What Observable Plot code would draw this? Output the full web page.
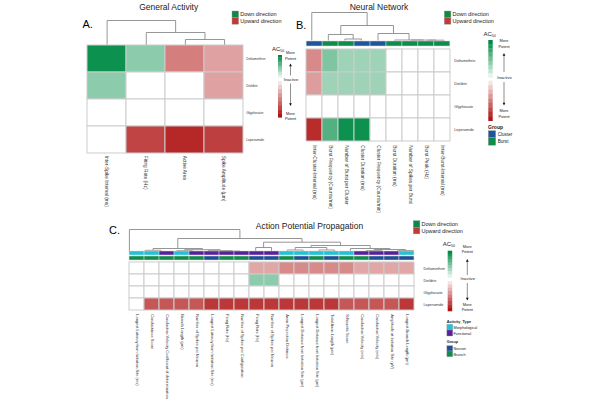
<!DOCTYPE html>
<html><head><meta charset="utf-8">
<script src="https://cdn.jsdelivr.net/npm/d3@7"></script>
<script src="https://cdn.jsdelivr.net/npm/@observablehq/plot@0.6"></script>
<style>
html,body{margin:0;padding:0;background:#fff;}
#root{position:relative;width:600px;height:400px;overflow:hidden;background:#fff;font-family:'Liberation Sans', Arial, sans-serif;}
#root svg{position:absolute;overflow:visible;font-family:'Liberation Sans', Arial, sans-serif;}
</style></head><body><div id="root"></div>
<script>
// ---------------- DATA ----------------
const rows = ["Deltamethrin", "Dieldrin", "Glyphosate", "Loperamide"];

const colsA = ["Inter-Spike Interval (ms)", "Firing Rate (Hz)", "Active Area", "Spike Amplitude (µm)"];
const valuesA = [
  [0.95, 0.45, -0.55, -0.4],
  [0.45, 0, 0, -0.4],
  [0, 0, 0, 0],
  [0, -0.8, -0.92, -0.82]
];
const mergesA = [[2, 3, 6], [1, 4, 13], [0, 5, 25]];

const colsB = ["Inter-Cluster-Interval (ms)", "Burst Frequency (Counts/min)", "Number of Burst per Cluster",
  "Cluster Duration (ms)", "Cluster Frequency (Counts/min)", "Burst Duration (ms)",
  "Number of Spikes per Burst", "Burst Peak (Hz)", "Inter-Burst-Interval (ms)"];
const groupB = ["Cluster", "Burst", "Burst", "Cluster", "Cluster", "Burst", "Burst", "Burst", "Burst"];
const valuesB = [
  [-0.5, 0.5, 0.38, 0.38, 0.38, 0, 0, 0, 0],
  [-0.42, 0.38, 0.38, 0.38, 0.38, 0, 0, 0, 0],
  [0, 0, 0, 0, 0, 0, 0, 0, 0],
  [-0.9, 0.68, 0.95, 0.95, 0, 0, 0, 0, 0]
];
const mergesB = [[7, 8, 0.3], [6, 9, 0.4], [5, 10, 0.5], [2, 3, 1.5], [1, 12, 6], [4, 11, 7], [13, 14, 15], [0, 15, 28]];

const colsC = ["Longest Latency from Initiation Site (ms)", "Conductance Score",
  "Conduction Velocity Coefficient of determination", "Branch Length (µm)", "Number of Spikes per Neuron",
  "Longest Latency from Initiation Site (ms) ", "Firing Rate (Hz)", "Number of Spikes per Configuration",
  "Firing Rate (Hz) ", "Number of Spikes per Neuron ", "Axon Projection Distance",
  "Longest Distance from Initiation Site (µm)", "Longest Distance from Initiation Site (µm) ",
  "Total Axon Length (µm)", "Silhouette Score", "Conduction Velocity (m/s)", "Conduction Velocity (m/s) ",
  "Amplitude at Initiation Site (µV)", "Longest Branch Length (µm)"];
const activityC = ["Morphological", "Morphological", "Functional", "Morphological", "Functional", "Functional",
  "Functional", "Functional", "Functional", "Functional", "Morphological", "Morphological", "Morphological",
  "Morphological", "Morphological", "Functional", "Functional", "Functional", "Morphological"];
const groupC = ["Branch", "Branch", "Branch", "Branch", "Branch", "Neuron", "Branch", "Branch", "Neuron", "Neuron",
  "Branch", "Neuron", "Branch", "Neuron", "Branch", "Branch", "Neuron", "Neuron", "Neuron"];
const valuesC = [
  [0, 0, 0, 0, 0, 0, 0, 0, -0.38, -0.38, -0.5, -0.5, -0.5, -0.5, -0.5, -0.38, -0.38, -0.38, -0.38],
  [0, 0, 0, 0, 0, 0, 0, 0, 0.45, 0.45, 0, 0, 0, 0, 0, 0, 0, 0, 0],
  [0, 0, 0, 0, 0, 0, 0, 0, 0, 0, 0, 0, 0, 0, 0, 0, 0, 0, 0],
  [0, -0.72, -0.72, -0.72, -0.72, -0.85, -0.85, -0.85, -0.85, -0.85, -0.85, -0.85, -0.85, -0.85, -0.72, -0.72, -0.72, -0.72, -0.85]
];
const mergesC = [[6, 7, 0.5], [5, 19, 1], [3, 4, 0.8], [21, 20, 1.8], [1, 2, 1.2], [23, 22, 3],
  [8, 9, 4], [10, 11, 1.5], [12, 13, 1.5], [26, 27, 4], [15, 16, 1], [17, 18, 1], [29, 30, 2], [14, 31, 3],
  [28, 32, 6], [25, 33, 9.3], [24, 34, 13], [0, 35, 22]];

const annotNames = ["Cluster", "Burst", "Morphological", "Functional", "Neuron", "Branch"];
const annotColors = ["#1f559c", "#0f8c4a", "#1ec3d6", "#5a1f9c", "#1d4f93", "#0f8c4a"];

// ---------------- STYLE ----------------
const FONT = "'Liberation Sans', Arial, sans-serif";
const GREEN = "#008b45", RED = "#b01515";
const COLOR = {type: "linear", domain: [-1, 0, 1], range: [RED, "#ffffff", GREEN], clamp: true};
const colorFn = d3.scaleLinear().domain([-1, 0, 1]).range([RED, "#ffffff", GREEN]);
const root = document.getElementById("root");

function place(svg, left, top) {
  svg.style.left = left + "px";
  svg.style.top = top + "px";
  root.appendChild(svg);
}

function heatmap(cols, values, left, top, w, h, rowFont, colFont, rowPad) {
  const data = [];
  rows.forEach((r, i) => cols.forEach((c, j) => data.push({row: r, col: c, value: values[i][j]})));
  const svg = Plot.plot({
    width: w + 70, height: h + 90,
    marginLeft: 0, marginTop: 0, marginRight: 70, marginBottom: 90,
    style: {background: "none", overflow: "visible", fontFamily: FONT, color: "#333"},
    x: {domain: cols, padding: 0},
    y: {domain: rows, padding: 0},
    color: COLOR,
    marks: [
      Plot.cell(data, {x: "col", y: "row", fill: "value", stroke: "#cccccc", strokeWidth: 1}),
      Plot.axisY({anchor: "right", tickSize: 0, tickPadding: rowPad, fontSize: rowFont, fontFamily: FONT,
        fill: "#333", label: null}),
      Plot.axisX({anchor: "bottom", tickSize: 0, tickPadding: 2, tickRotate: 90, textAnchor: "start",
        fontSize: colFont, fontFamily: FONT, fill: "#333", label: null, tickFormat: d => d.trim()})
    ]
  });
  place(svg, left, top);
}

function dendro(n, merges, hmax, left, top, w, h) {
  const nodes = d3.range(n).map(i => ({x: i + 0.5, h: 0}));
  const segs = [];
  for (const [a, b, hh] of merges) {
    const A = nodes[a], B = nodes[b];
    segs.push({x1: A.x, y1: A.h, x2: A.x, y2: hh});
    segs.push({x1: B.x, y1: B.h, x2: B.x, y2: hh});
    segs.push({x1: A.x, y1: hh, x2: B.x, y2: hh});
    nodes.push({x: (A.x + B.x) / 2, h: hh});
  }
  const svg = Plot.plot({
    width: w, height: h, margin: 0,
    style: {background: "none", overflow: "visible"},
    x: {domain: [0, n], axis: null},
    y: {domain: [0, hmax], axis: null},
    marks: [Plot.link(segs, {x1: "x1", y1: "y1", x2: "x2", y2: "y2", stroke: "#8a8a8a", strokeWidth: 0.9})]
  });
  place(svg, left, top);
}

function annot(cols, tracks, left, top, w, h) {
  const data = tracks.flatMap(t => t.values.map((v, j) => ({track: t.name, col: cols[j], value: v})));
  const svg = Plot.plot({
    width: w, height: h, margin: 0,
    style: {background: "none", overflow: "visible"},
    x: {domain: cols, padding: 0, axis: null},
    y: {domain: tracks.map(t => t.name), paddingInner: 0.15, paddingOuter: 0, axis: null},
    color: {type: "ordinal", domain: annotNames, range: annotColors},
    marks: [Plot.cell(data, {x: "col", y: "track", fill: "value", stroke: "#d8d8d8", strokeWidth: 0.5})]
  });
  place(svg, left, top);
}

// ---------------- PANEL A ----------------
dendro(colsA.length, mergesA, 25, 87.3, 20, 156.7, 25);
heatmap(colsA, valuesA, 87.3, 45, 156.7, 108.3, 3.4, 4.8, 2);

// ---------------- PANEL B ----------------
dendro(colsB.length, mergesB, 28, 303, 12, 149, 28);
annot(colsB, [{name: "Group", values: groupB}], 303, 40, 149, 6.2);
heatmap(colsB, valuesB, 303, 47, 149, 95.7, 3.7, 4.8, 1.8);

// ---------------- PANEL C ----------------
dendro(colsC.length, mergesC, 22, 121, 229, 300, 22);
annot(colsC, [{name: "Activity_Type", values: activityC}, {name: "Group", values: groupC}], 121, 251, 300, 9.3);
heatmap(colsC, valuesC, 121, 261, 300, 50.7, 3.8, 4.0, 2);

// ---------------- OVERLAY: titles & legends ----------------
const ov = d3.select(root).append("svg").attr("width", 600).attr("height", 400)
  .style("left", "0px").style("top", "0px").style("font-family", FONT);

function txt(x, y, s, size, opts = {}) {
  return ov.append("text").attr("x", x).attr("y", y).attr("font-size", size)
    .attr("text-anchor", opts.anchor || "start").attr("font-weight", opts.weight || "normal")
    .attr("fill", opts.fill || "#222").text(s);
}

// titles
txt(168.7, 10, "General Activity", 8.5, {anchor: "middle"});
txt(379, 9.5, "Neural Network", 8.5, {anchor: "middle"});
txt(309.5, 229, "Action Potential Propagation", 8.5, {anchor: "middle"});
txt(82.5, 28.3, "A.", 11, {fill: "#000"});
txt(296, 29, "B.", 11, {fill: "#000"});
txt(109, 234, "C.", 11, {fill: "#000"});

// direction legends
function dirLegend(x, y) {
  const s = 6.6;
  ov.append("rect").attr("x", x).attr("y", y).attr("width", s).attr("height", s)
    .attr("fill", "#0a8a45").attr("stroke", "#999").attr("stroke-width", 0.4);
  ov.append("rect").attr("x", x).attr("y", y + s).attr("width", s).attr("height", s)
    .attr("fill", "#c03a3c").attr("stroke", "#999").attr("stroke-width", 0.4);
  txt(x + s + 1.6, y + 5.2, "Down direction", 5.5);
  txt(x + s + 1.6, y + s + 5.2, "Upward direction", 5.5);
}
dirLegend(232, 11);
dirLegend(444.3, 11);
dirLegend(413.3, 220.7);

// AC50 colour legends
function arrow(x, y1, y2) {
  const d = y2 < y1 ? -1 : 1;
  ov.append("line").attr("x1", x).attr("x2", x).attr("y1", y1).attr("y2", y2 - d * 2)
    .attr("stroke", "#444").attr("stroke-width", 0.6);
  ov.append("path").attr("d", `M${x - 1.4},${y2 - d * 2.8}L${x + 1.4},${y2 - d * 2.8}L${x},${y2}Z`).attr("fill", "#111");
}
function acLegend(o) {
  const t = ov.append("text").attr("x", o.acX).attr("y", o.acY).attr("font-size", 6).attr("fill", "#222");
  t.append("tspan").text("AC");
  t.append("tspan").attr("font-size", 3.6).attr("dy", 1.2).text("50");
  const n = 9;
  const gh = (o.g1 - o.g0) / n, rh = (o.r1 - o.r0) / n;
  for (let i = 0; i < n; i++) {
    ov.append("rect").attr("x", o.barX).attr("y", o.g0 + i * gh).attr("width", o.barW).attr("height", gh + 0.3)
      .attr("fill", colorFn(1 - i / n));
    ov.append("rect").attr("x", o.barX).attr("y", o.r0 + i * rh).attr("width", o.barW).attr("height", rh + 0.3)
      .attr("fill", colorFn(-(i + 1) / n));
  }
  txt(o.cx, o.m1, "More", 3.9, {anchor: "middle"});
  txt(o.cx, o.m1 + 5.5, "Potent", 3.9, {anchor: "middle"});
  arrow(o.cx, o.up[0], o.up[1]);
  txt(o.cx + 0.5, o.ina, "Inactive", 4.2, {anchor: "middle"});
  arrow(o.cx, o.dn[0], o.dn[1]);
  txt(o.cx, o.m2, "More", 3.9, {anchor: "middle"});
  txt(o.cx, o.m2 + 5.5, "Potent", 3.9, {anchor: "middle"});
}
acLegend({acX: 272, acY: 50.5, barX: 278, barW: 4, g0: 55, g1: 77.3, r0: 81, r1: 117.3,
  cx: 290.5, m1: 54, up: [75.5, 63.5], ina: 80.5, dn: [83.5, 106], m2: 114.5});
acLegend({acX: 483.5, acY: 36, barX: 488.3, barW: 4.4, g0: 40, g1: 77.3, r0: 80.7, r1: 120.7,
  cx: 504, m1: 42.3, up: [72, 53], ina: 78.8, dn: [82, 105.5], m2: 112.3});
acLegend({acX: 442.7, acY: 246, barX: 447.7, barW: 4.5, g0: 250.7, g1: 277.3, r0: 281, r1: 311,
  cx: 467.3, m1: 247.8, up: [275, 259], ina: 279.8, dn: [283, 300.5], m2: 305.5});

// annotation legends
function swatch(x, y, w, h, c) {
  ov.append("rect").attr("x", x).attr("y", y).attr("width", w).attr("height", h)
    .attr("fill", c).attr("stroke", "#999").attr("stroke-width", 0.4);
}
txt(488, 128.7, "Group", 5, {weight: "bold"});
swatch(488.3, 130.7, 7.4, 7, annotColors[0]);
swatch(488.3, 137.7, 7.4, 7.5, annotColors[1]);
txt(497.7, 135.6, "Cluster", 4.6);
txt(497.7, 143, "Burst", 4.6);

txt(446.7, 323.2, "Activity_Type", 3.8, {weight: "bold"});
swatch(446.9, 324.3, 5.8, 5.7, annotColors[2]);
swatch(446.9, 330, 5.8, 6, annotColors[3]);
txt(453.5, 328.6, "Morphological", 3.8);
txt(453.5, 334.6, "Functional", 3.8);
txt(446.7, 343.4, "Group", 3.8, {weight: "bold"});
swatch(446.9, 345.7, 5.8, 5.3, annotColors[4]);
swatch(446.9, 351, 5.8, 5.7, annotColors[5]);
txt(453.5, 349.8, "Neuron", 3.8);
txt(453.5, 355.5, "Branch", 3.8);
</script></body></html>
